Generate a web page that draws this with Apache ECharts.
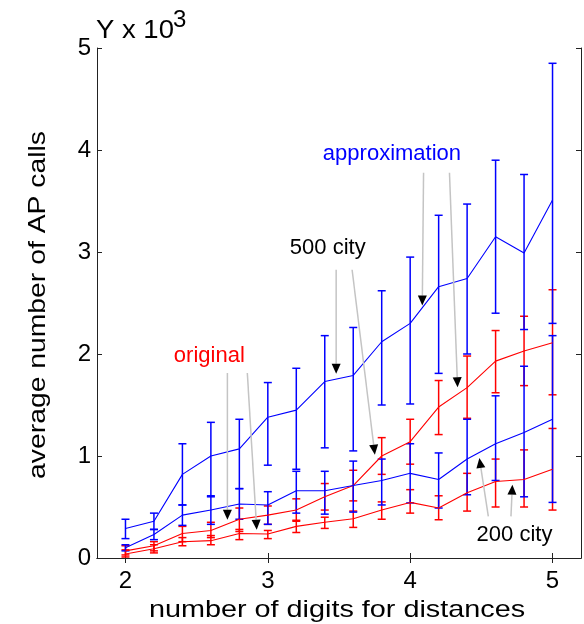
<!DOCTYPE html>
<html><head><meta charset="utf-8">
<script src="https://cdn.jsdelivr.net/npm/echarts@6/dist/echarts.min.js"></script>
<style>html,body{margin:0;padding:0;background:#fff}#c{width:584px;height:624px}</style>
</head><body><div id="c"></div>
<script>
// x values: number of digits for distances
const digits = [2.0, 2.2, 2.4, 2.6, 2.8, 3.0, 3.2, 3.4, 3.6, 3.8, 4.0, 4.2, 4.4, 4.6, 4.8, 5.0];

// approximation, 500 city (blue, upper)
const approx500     = [0.29, 0.36, 0.82, 1.00, 1.07, 1.38, 1.45, 1.73, 1.79, 2.12, 2.30, 2.66, 2.74, 3.15, 2.99, 3.51];
const approx500Low  = [0.19, 0.28, 0.52, 0.60, 0.68, 0.91, 0.87, 1.08, 1.05, 1.50, 1.51, 1.81, 2.00, 2.40, 2.24, 2.30];
const approx500High = [0.38, 0.44, 1.12, 1.33, 1.36, 1.72, 1.86, 2.18, 2.26, 2.62, 2.95, 3.36, 3.47, 3.90, 3.76, 4.85];

// original, 500 city (red, upper)
const orig500     = [0.07, 0.12, 0.24, 0.27, 0.38, 0.42, 0.47, 0.60, 0.71, 1.00, 1.14, 1.48, 1.67, 1.93, 2.03, 2.11];
const orig500Low  = [0.03, 0.07, 0.16, 0.20, 0.26, 0.33, 0.36, 0.47, 0.56, 0.82, 0.92, 1.21, 1.37, 1.62, 1.69, 1.60];
const orig500High = [0.12, 0.16, 0.31, 0.35, 0.49, 0.51, 0.58, 0.73, 0.86, 1.18, 1.36, 1.74, 1.98, 2.23, 2.37, 2.63];

// approximation, 200 city (blue, lower)
const approx200     = [0.10, 0.23, 0.42, 0.47, 0.53, 0.52, 0.66, 0.66, 0.71, 0.76, 0.83, 0.77, 0.97, 1.12, 1.23, 1.36];
const approx200Low  = [0.07, 0.18, 0.32, 0.33, 0.38, 0.33, 0.44, 0.43, 0.45, 0.52, 0.54, 0.49, 0.62, 0.76, 0.60, 0.545];
const approx200High = [0.13, 0.28, 0.52, 0.61, 0.68, 0.65, 0.85, 0.85, 0.95, 0.97, 1.12, 1.03, 1.36, 1.59, 1.88, 2.18];

// original, 200 city (red, lower)
const orig200     = [0.04, 0.09, 0.16, 0.17, 0.24, 0.235, 0.31, 0.35, 0.385, 0.47, 0.545, 0.49, 0.64, 0.75, 0.77, 0.87];
const orig200Low  = [0.01, 0.05, 0.12, 0.13, 0.18, 0.19, 0.25, 0.29, 0.30, 0.38, 0.44, 0.375, 0.46, 0.50, 0.50, 0.47];
const orig200High = [0.08, 0.13, 0.20, 0.22, 0.28, 0.27, 0.37, 0.40, 0.46, 0.55, 0.67, 0.61, 0.83, 0.97, 1.06, 1.27];

const xTicks = [2, 3, 4, 5];
const yTicks = [0, 1, 2, 3, 4, 5];

// annotations (data coordinates): label text and arrows [start, tip]
const annoLabels = [
  {text: 'approximation', at: [3.872, 3.965], color: '#0000ff'},
  {text: '500 city', at: [3.421, 3.04], color: '#000000'},
  {text: 'original', at: [2.589, 1.985], color: '#ff0000'},
  {text: '200 city', at: [4.733, 0.228], color: '#000000'}
];
const annoArrows = [
  [[4.094, 3.777], [4.085, 2.475]],
  [[4.276, 3.777], [4.333, 1.674]],
  [[3.480, 2.826], [3.480, 1.807]],
  [[3.592, 2.826], [3.752, 1.013]],
  [[2.716, 1.814], [2.716, 0.375]],
  [[2.856, 1.814], [2.922, 0.278]],
  [[4.549, 0.408], [4.486, 0.980]],
  [[4.708, 0.408], [4.718, 0.719]]
];

const FONT = 'Liberation Sans, Arial, sans-serif';
const BLUE = '#0000ff', RED = '#ff0000';

function lineSeries(name, vals, color) {
  return {
    type: 'line', name, data: digits.map((x, i) => [x, vals[i]]),
    symbol: 'none', lineStyle: {color, width: 1.1}, z: 3, animation: false, silent: true
  };
}
function errSeries(name, low, high, color) {
  return {
    type: 'custom', name, data: digits.map((x, i) => [x, low[i], high[i]]),
    encode: {x: 0, y: [1, 2]}, z: 2, animation: false, silent: true,
    renderItem(params, api) {
      const x = api.value(0);
      const lo = api.coord([x, api.value(1)]);
      const hi = api.coord([x, api.value(2)]);
      const hw = 4;
      const st = {stroke: color, lineWidth: 1.5};
      return {type: 'group', children: [
        {type: 'line', shape: {x1: lo[0], y1: lo[1], x2: hi[0], y2: hi[1]}, style: st},
        {type: 'line', shape: {x1: lo[0] - hw, y1: lo[1], x2: lo[0] + hw, y2: lo[1]}, style: st},
        {type: 'line', shape: {x1: hi[0] - hw, y1: hi[1], x2: hi[0] + hw, y2: hi[1]}, style: st}
      ]};
    }
  };
}

const chart = echarts.init(document.getElementById('c'), null, {renderer: 'canvas'});
const axisLine = {show: true, lineStyle: {color: '#222', width: 1}};
chart.setOption({
  animation: false,
  backgroundColor: '#fff',
  grid: {left: 97, right: 3, top: 48, bottom: 66},
  xAxis: [
    {type: 'value', min: 1.8, max: 5.2, position: 'bottom', axisLine,
     axisTick: {show: true, inside: true, length: 5, customValues: xTicks, lineStyle: {color: '#222'}},
     axisLabel: {customValues: xTicks, fontSize: 24, color: '#000', margin: 11, fontFamily: FONT},
     splitLine: {show: false}},
    {type: 'value', min: 1.8, max: 5.2, position: 'top', axisLine,
     axisTick: {show: true, inside: true, length: 5, customValues: xTicks, lineStyle: {color: '#222'}},
     axisLabel: {show: false}, splitLine: {show: false}}
  ],
  yAxis: [
    {type: 'value', min: 0, max: 5, interval: 1, position: 'left', axisLine,
     axisTick: {show: true, inside: true, length: 5, lineStyle: {color: '#222'}},
     axisLabel: {fontSize: 24, color: '#000', margin: 6, fontFamily: FONT},
     splitLine: {show: false}},
    {type: 'value', min: 0, max: 5, interval: 1, position: 'right', axisLine,
     axisTick: {show: true, inside: true, length: 5, lineStyle: {color: '#222'}},
     axisLabel: {show: false}, splitLine: {show: false}}
  ],
  series: [
    errSeries('orig200 err', orig200Low, orig200High, RED),
    errSeries('orig500 err', orig500Low, orig500High, RED),
    errSeries('approx200 err', approx200Low, approx200High, BLUE),
    errSeries('approx500 err', approx500Low, approx500High, BLUE),
    lineSeries('orig200', orig200, RED),
    lineSeries('orig500', orig500, RED),
    lineSeries('approx200', approx200, BLUE),
    lineSeries('approx500', approx500, BLUE)
  ]
});

const g = [];
// titles / axis names
g.push({type: 'text', x: 96, y: 31, scaleX: 1.1, style: {text: 'Y x 10', fontSize: 25, fontFamily: FONT, fill: '#000', textVerticalAlign: 'middle', textAlign: 'left'}});
g.push({type: 'text', x: 173, y: 20, style: {text: '3', fontSize: 24, fontFamily: FONT, fill: '#000', textVerticalAlign: 'middle', textAlign: 'left'}});
g.push({type: 'text', x: 337, y: 610, scaleX: 1.2, style: {text: 'number of digits for distances', fontSize: 24, fontFamily: FONT, fill: '#000', textVerticalAlign: 'middle', textAlign: 'center'}});
g.push({type: 'text', x: 38, y: 305, rotation: Math.PI / 2, scaleX: 1.18, style: {text: 'average number of AP calls', fontSize: 24, fontFamily: FONT, fill: '#000', textVerticalAlign: 'middle', textAlign: 'center'}});

const px = p => chart.convertToPixel({gridIndex: 0}, p);
annoArrows.forEach(([s, t]) => {
  const a = px(s), b = px(t);
  const dx = b[0] - a[0], dy = b[1] - a[1];
  const L = Math.hypot(dx, dy), ux = dx / L, uy = dy / L;
  const hl = 10, hw = 4.5;
  const bx = b[0] - ux * hl, by = b[1] - uy * hl;
  g.push({type: 'line', shape: {x1: a[0], y1: a[1], x2: bx, y2: by}, style: {stroke: '#c4c4c4', lineWidth: 1.5}, z: 10});
  g.push({type: 'polygon', shape: {points: [[b[0], b[1]], [bx - uy * hw, by + ux * hw], [bx + uy * hw, by - ux * hw]]}, style: {fill: '#000'}, z: 11});
});
annoLabels.forEach(l => {
  const p = px(l.at);
  g.push({type: 'text', x: p[0], y: p[1], style: {text: l.text, fontSize: 22, fontFamily: FONT, fill: l.color, textAlign: 'center', textVerticalAlign: 'middle'}, z: 12});
});
chart.setOption({graphic: g});
</script>
</body></html>
